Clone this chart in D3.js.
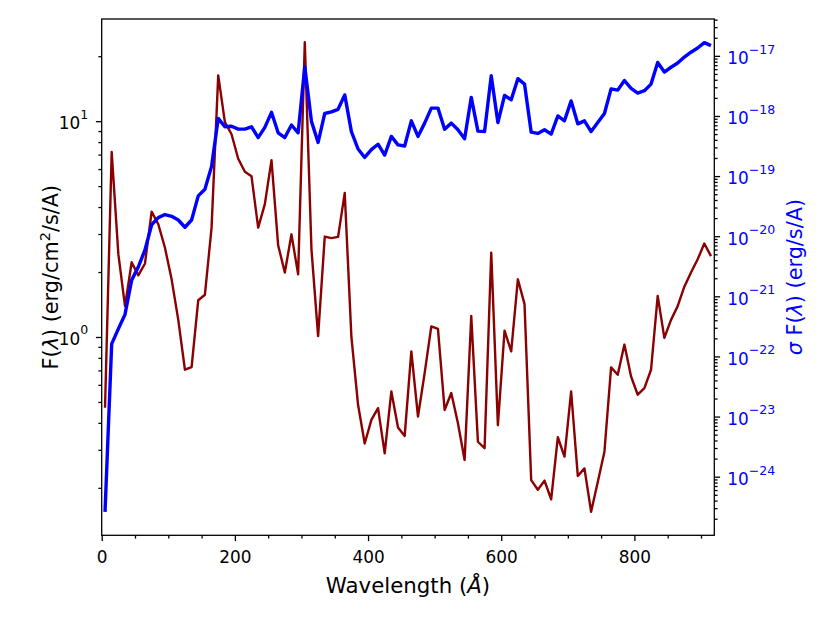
<!DOCTYPE html>
<html>
<head>
<meta charset="utf-8">
<script src="https://cdn.jsdelivr.net/npm/d3@7"></script>
<style>
body { margin: 0; background: #fff; }
text { font-family: "DejaVu Sans", sans-serif; }
</style>
</head>
<body>
<div id="chart"></div>
<script>
// Data
var wavelength = [5, 15, 25, 35, 45, 55, 65, 75, 85, 95,
    105, 115, 125, 135, 145, 155, 165, 175, 185, 195,
    205, 215, 225, 235, 245, 255, 265, 275, 285, 295,
    305, 315, 325, 335, 345, 355, 365, 375, 385, 395,
    405, 415, 425, 435, 445, 455, 465, 475, 485, 495,
    505, 515, 525, 535, 545, 555, 565, 575, 585, 595,
    605, 615, 625, 635, 645, 655, 665, 675, 685, 695,
    705, 715, 725, 735, 745, 755, 765, 775, 785, 795,
    805, 815, 825, 835, 845, 855, 865, 875, 885, 895,
    905, 915];

var flux = [0.47, 7.2, 2.42, 1.39, 2.22, 1.93, 2.19, 3.81, 3.33, 2.59,
    1.85, 1.20, 0.705, 0.725, 1.48, 1.57, 3.21, 16.3, 9.9, 8.7,
    6.7, 5.83, 5.55, 3.21, 4.13, 6.6, 2.66, 1.99, 2.99, 1.95,
    23.2, 2.55, 1.01, 2.92, 2.87, 2.91, 4.65, 1.0, 0.485, 0.321,
    0.413, 0.468, 0.289, 0.559, 0.381, 0.348, 0.858, 0.428, 0.68, 1.12,
    1.09, 0.459, 0.55, 0.398, 0.269, 1.25, 0.327, 0.305, 2.46, 0.39,
    1.07, 0.858, 1.85, 1.42, 0.217, 0.196, 0.216, 0.177, 0.343, 0.279,
    0.559, 0.227, 0.246, 0.155, 0.213, 0.294, 0.723, 0.668, 0.922, 0.656,
    0.54, 0.579, 0.705, 1.55, 0.99, 1.2, 1.39, 1.71, 1.99, 2.29,
    2.71, 2.37];

var fluxErr = [2.6e-25, 1.62e-22, 2.88e-22, 5.0e-22, 1.86e-21, 3.09e-21, 5.9e-21, 1.55e-20, 2.04e-20, 2.29e-20,
    2.14e-20, 1.86e-20, 1.41e-20, 1.86e-20, 4.68e-20, 6.03e-20, 1.45e-19, 9.1e-19, 6.6e-19, 6.76e-19,
    6.03e-19, 6.03e-19, 6.6e-19, 4.37e-19, 6.46e-19, 1.15e-18, 5.25e-19, 4.37e-19, 7.08e-19, 5.25e-19,
    6.6e-18, 8.13e-19, 3.63e-19, 1.10e-18, 1.17e-18, 1.29e-18, 2.24e-18, 5.5e-19, 2.82e-19, 2.04e-19,
    2.75e-19, 3.39e-19, 2.24e-19, 4.57e-19, 3.31e-19, 3.16e-19, 8.3e-19, 4.57e-19, 7.6e-19, 1.35e-18,
    1.35e-18, 6.03e-19, 7.6e-19, 5.9e-19, 4.17e-19, 2.04e-18, 5.6e-19, 5.5e-19, 4.68e-18, 7.76e-19,
    2.19e-18, 1.86e-18, 4.17e-18, 3.39e-18, 5.37e-19, 5.13e-19, 5.9e-19, 5.0e-19, 1.0e-18, 8.3e-19,
    1.78e-18, 7.4e-19, 8.3e-19, 5.5e-19, 7.76e-19, 1.10e-18, 2.82e-18, 2.69e-18, 3.89e-18, 2.88e-18,
    2.4e-18, 2.63e-18, 3.39e-18, 7.76e-18, 5.37e-18, 6.46e-18, 7.6e-18, 9.55e-18, 1.15e-17, 1.35e-17,
    1.66e-17, 1.48e-17];

var xTicks = [0, 200, 400, 600, 800];
var leftExps = [0, 1];
var rightExps = [-24, -23, -22, -21, -20, -19, -18, -17];

var svgWidth = 830;
var svgHeight = 623;

var margin = {
    top: 19,
    right: 115.7,
    bottom: 87.7,
    left: 101.7
};

var width = svgWidth - margin.left - margin.right;
var height = svgHeight - margin.top - margin.bottom;

var svg = d3.select("#chart")
    .append("svg")
    .attr("width", svgWidth)
    .attr("height", svgHeight);

var chartGroup = svg.append("g")
    .attr("transform", `translate(${margin.left},${margin.top})`);

// scales
var xScale = d3.scaleLinear().domain([0, 920]).range([0, width]);
var yLeft = d3.scaleLog().domain([0.1205, 29.75]).range([height, 0]);
var yRight = d3.scaleLog().domain([1.06e-25, 4.1e-17]).range([height, 0]);

// minor ticks on log axes: 2..9 times each decade inside the domain
function logMinor(scale) {
    var dom = scale.domain();
    var lo = Math.floor(Math.log10(dom[0])), hi = Math.ceil(Math.log10(dom[1]));
    var out = [];
    for (var e = lo; e <= hi; e++) {
        for (var m = 2; m <= 9; m++) {
            var v = m * Math.pow(10, e);
            if (v >= dom[0] && v <= dom[1]) out.push(v);
        }
    }
    return out;
}

var tickW = 1.3;
var majorLen = 5.8;
var minorLen = 3.3;

function powLabel(sel, exps) {
    sel.each(function (d, i) {
        var t = d3.select(this).text(null);
        var e = exps[i];
        t.append("tspan").text("10");
        t.append("tspan")
            .attr("dy", -10.5)
            .attr("font-size", "0.74em")
            .text(e < 0 ? "\u2212" + (-e) : String(e));
    });
}

function styleAxis(g) {
    g.select(".domain").remove();
    g.selectAll(".tick line").attr("stroke", "#000").attr("stroke-width", tickW);
}

// x axis
var xAxisMinor = chartGroup.append("g")
    .attr("transform", `translate(0,${height})`)
    .call(d3.axisBottom(xScale).tickValues(d3.range(50, 920, 50).filter(v => v % 200 !== 0))
        .tickSize(minorLen).tickFormat(""));
styleAxis(xAxisMinor);

var xAxis = chartGroup.append("g")
    .attr("transform", `translate(0,${height})`)
    .call(d3.axisBottom(xScale).tickValues(xTicks).tickSize(majorLen));
styleAxis(xAxis);
xAxis.selectAll(".tick text")
    .attr("y", 28).attr("dy", 0)
    .attr("font-size", "16.9px")
    .attr("font-family", "DejaVu Sans")
    .attr("fill", "#000");

// left y axis
var yLeftMinor = chartGroup.append("g")
    .call(d3.axisLeft(yLeft).tickValues(logMinor(yLeft)).tickSize(minorLen).tickFormat(""));
styleAxis(yLeftMinor);

var yLeftAxis = chartGroup.append("g")
    .call(d3.axisLeft(yLeft).tickValues(leftExps.map(e => Math.pow(10, e))).tickSize(majorLen));
styleAxis(yLeftAxis);
yLeftAxis.selectAll(".tick text")
    .attr("x", -13.5).attr("dy", 7.4)
    .attr("font-size", "16.9px")
    .attr("font-family", "DejaVu Sans")
    .attr("fill", "#000")
    .call(powLabel, leftExps);

// right y axis
var yRightMinor = chartGroup.append("g")
    .attr("transform", `translate(${width},0)`)
    .call(d3.axisRight(yRight).tickValues(logMinor(yRight)).tickSize(minorLen).tickFormat(""));
styleAxis(yRightMinor);

var yRightAxis = chartGroup.append("g")
    .attr("transform", `translate(${width},0)`)
    .call(d3.axisRight(yRight).tickValues(rightExps.map(e => Math.pow(10, e))).tickSize(majorLen));
styleAxis(yRightAxis);
yRightAxis.selectAll(".tick text")
    .attr("x", 13).attr("dy", 7.8)
    .attr("font-size", "16.9px")
    .attr("font-family", "DejaVu Sans")
    .attr("fill", "#0000ff")
    .call(powLabel, rightExps);

// lines
var points = wavelength.map((w, i) => ({w: w, f: flux[i], s: fluxErr[i]}));

svg.append("defs").append("clipPath").attr("id", "plotclip")
    .append("rect").attr("width", width).attr("height", height);

var lines = chartGroup.append("g").attr("clip-path", "url(#plotclip)");

var fluxLine = d3.line().x(d => xScale(d.w)).y(d => yLeft(d.f));
var errLine = d3.line().x(d => xScale(d.w)).y(d => yRight(d.s));

lines.append("path")
    .datum(points)
    .attr("d", fluxLine)
    .attr("fill", "none")
    .attr("stroke", "#8b0000")
    .attr("stroke-width", 2.4)
    .attr("stroke-linejoin", "round");

lines.append("path")
    .datum(points)
    .attr("d", errLine)
    .attr("fill", "none")
    .attr("stroke", "#0000ff")
    .attr("stroke-width", 3.4)
    .attr("stroke-linejoin", "round");

// frame
chartGroup.append("rect")
    .attr("width", width)
    .attr("height", height)
    .attr("fill", "none")
    .attr("stroke", "#000")
    .attr("stroke-width", tickW);

// axis labels
var xLabel = svg.append("text")
    .attr("x", margin.left + width / 2)
    .attr("y", 593)
    .attr("text-anchor", "middle")
    .attr("font-size", "21.3px");
xLabel.append("tspan").text("Wavelength (");
xLabel.append("tspan").attr("font-style", "italic").text("\u00c5");
xLabel.append("tspan").text(")");

var yLabel = svg.append("text")
    .attr("transform", `translate(58.3,${margin.top + height / 2}) rotate(-90)`)
    .attr("text-anchor", "middle")
    .attr("font-size", "20.8px");
yLabel.append("tspan").text("F(");
yLabel.append("tspan").attr("font-style", "italic").text("\u03bb");
yLabel.append("tspan").text(") (erg/cm");
yLabel.append("tspan").attr("dy", -8).attr("font-size", "0.7em").text("2");
yLabel.append("tspan").attr("dy", 8).text("/s/A)");

var y2Label = svg.append("text")
    .attr("transform", `translate(801.7,${margin.top + height / 2}) rotate(-90)`)
    .attr("text-anchor", "middle")
    .attr("font-size", "20.8px")
    .attr("fill", "#0000ff");
y2Label.append("tspan").attr("font-style", "italic").text("\u03c3");
y2Label.append("tspan").text(" F(");
y2Label.append("tspan").attr("font-style", "italic").text("\u03bb");
y2Label.append("tspan").text(") (erg/s/A)");
</script>
</body>
</html>
